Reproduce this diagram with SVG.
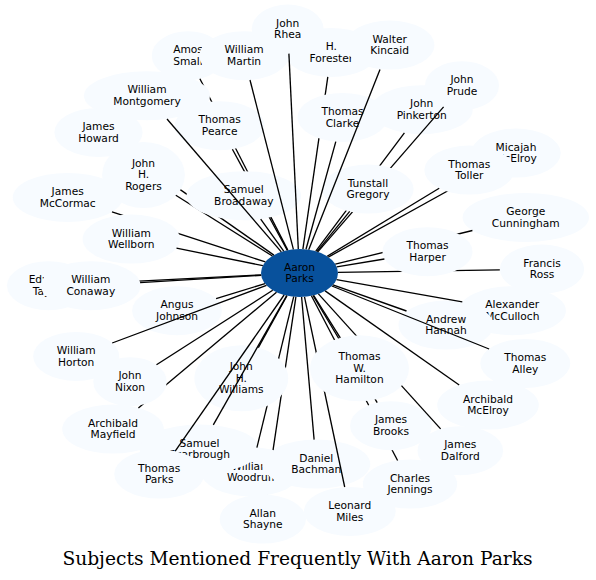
<svg xmlns="http://www.w3.org/2000/svg" width="596" height="580" viewBox="0 0 596 580">
<style>
.node ellipse{fill:#f7fbff;stroke:none}
#node-aaron-parks ellipse{fill:#08519c}
.node text{font-family:"DejaVu Sans",sans-serif;font-size:10.67px;text-anchor:middle;fill:#000}
#edges line{stroke:#000;stroke-width:1.33;fill:none}
.title{font-family:"DejaVu Serif",serif;font-size:18.67px;text-anchor:middle;fill:#000}
</style>
<defs>
<mask id="m-amos" maskUnits="userSpaceOnUse" x="0" y="0" width="596" height="580"><rect width="596" height="580" fill="#fff"/><ellipse cx="147" cy="95.7" rx="63" ry="24.5"/><ellipse cx="219.7" cy="125.7" rx="45" ry="24.5"/><ellipse cx="243.8" cy="195.7" rx="57.3" ry="24.5"/></mask>
<mask id="m-broad" maskUnits="userSpaceOnUse" x="0" y="0" width="596" height="580"><rect width="596" height="580" fill="#fff"/><ellipse cx="243.8" cy="195.7" rx="57.3" ry="24.5"/></mask>
<mask id="m-howard" maskUnits="userSpaceOnUse" x="0" y="0" width="596" height="580"><rect width="596" height="580" fill="#fff"/><ellipse cx="143.5" cy="175" rx="41.4" ry="33"/><ellipse cx="243.8" cy="195.7" rx="57.3" ry="24.5"/></mask>
<mask id="m-clarke" maskUnits="userSpaceOnUse" x="0" y="0" width="596" height="580"><rect width="596" height="580" fill="#fff"/><ellipse cx="342.5" cy="117.4" rx="45" ry="24.5"/></mask>
<mask id="m-tun" maskUnits="userSpaceOnUse" x="0" y="0" width="596" height="580"><rect width="596" height="580" fill="#fff"/><ellipse cx="368" cy="189.1" rx="45.7" ry="24.5"/></mask>
<mask id="m-toller" maskUnits="userSpaceOnUse" x="0" y="0" width="596" height="580"><rect width="596" height="580" fill="#fff"/><ellipse cx="469.3" cy="170.1" rx="45" ry="24.5"/></mask>
<mask id="m-well" maskUnits="userSpaceOnUse" x="0" y="0" width="596" height="580"><rect width="596" height="580" fill="#fff"/><ellipse cx="131.3" cy="239.1" rx="48.7" ry="24.5"/></mask>
<mask id="m-harper" maskUnits="userSpaceOnUse" x="0" y="0" width="596" height="580"><rect width="596" height="580" fill="#fff"/><ellipse cx="427.5" cy="251.7" rx="45" ry="24.5"/></mask>
<mask id="m-con" maskUnits="userSpaceOnUse" x="0" y="0" width="596" height="580"><rect width="596" height="580" fill="#fff"/><ellipse cx="90.8" cy="285.7" rx="49.7" ry="24.5"/></mask>
<mask id="m-nixon" maskUnits="userSpaceOnUse" x="0" y="0" width="596" height="580"><rect width="596" height="580" fill="#fff"/><ellipse cx="130" cy="381.7" rx="36.7" ry="24.5"/></mask>
<mask id="m-ham" maskUnits="userSpaceOnUse" x="0" y="0" width="596" height="580"><rect width="596" height="580" fill="#fff"/><ellipse cx="359.5" cy="368.3" rx="49.4" ry="33"/></mask>
<mask id="m-jen" maskUnits="userSpaceOnUse" x="0" y="0" width="596" height="580"><rect width="596" height="580" fill="#fff"/><ellipse cx="359.5" cy="368.3" rx="49.4" ry="33"/><ellipse cx="391" cy="425.7" rx="40.9" ry="24.5"/></mask>
<mask id="m-will" maskUnits="userSpaceOnUse" x="0" y="0" width="596" height="580"><rect width="596" height="580" fill="#fff"/><ellipse cx="241.3" cy="378.3" rx="46.9" ry="33"/></mask>
<mask id="m-allan" maskUnits="userSpaceOnUse" x="0" y="0" width="596" height="580"><rect width="596" height="580" fill="#fff"/><ellipse cx="241.3" cy="378.3" rx="46.9" ry="33"/><ellipse cx="251" cy="471.9" rx="49.8" ry="24.5"/></mask>
</defs>
<rect width="596" height="580" fill="#fff"/>
<g id="nodes">
<g id="node-aaron-parks" class="node"><ellipse cx="299.5" cy="273" rx="38.5" ry="24"/><text><tspan x="299.5" y="270.6">Aaron</tspan><tspan x="299.5" y="282.3">Parks</tspan></text></g>
<g id="node-amos-small" class="node"><ellipse cx="188" cy="55.7" rx="36.2" ry="24.5"/><text><tspan x="188" y="53.3">Amos</tspan><tspan x="188" y="65">Small</tspan></text></g>
<g id="node-william-martin" class="node"><ellipse cx="244.1" cy="55.7" rx="44.8" ry="24.5"/><text><tspan x="244.1" y="53.3">William</tspan><tspan x="244.1" y="65">Martin</tspan></text></g>
<g id="node-h-forester" class="node"><ellipse cx="331.3" cy="52.4" rx="46.5" ry="24.5"/><text><tspan x="331.3" y="50">H.</tspan><tspan x="331.3" y="61.7">Forester</tspan></text></g>
<g id="node-john-rhea" class="node"><ellipse cx="287.7" cy="29.1" rx="36" ry="24.5"/><text><tspan x="287.7" y="26.7">John</tspan><tspan x="287.7" y="38.4">Rhea</tspan></text></g>
<g id="node-walter-kincaid" class="node"><ellipse cx="389.7" cy="45.1" rx="44.8" ry="24.5"/><text><tspan x="389.7" y="42.7">Walter</tspan><tspan x="389.7" y="54.4">Kincaid</tspan></text></g>
<g id="node-john-pinkerton" class="node"><ellipse cx="421.7" cy="109.7" rx="51" ry="24.5"/><text><tspan x="421.7" y="107.3">John</tspan><tspan x="421.7" y="119">Pinkerton</tspan></text></g>
<g id="node-john-prude" class="node"><ellipse cx="462" cy="85.7" rx="37" ry="24.5"/><text><tspan x="462" y="83.3">John</tspan><tspan x="462" y="95">Prude</tspan></text></g>
<g id="node-william-montgomery" class="node"><ellipse cx="147" cy="95.7" rx="63" ry="24.5"/><text><tspan x="147" y="93.3">William</tspan><tspan x="147" y="105">Montgomery</tspan></text></g>
<g id="node-thomas-pearce" class="node"><ellipse cx="219.7" cy="125.7" rx="45" ry="24.5"/><text><tspan x="219.7" y="123.3">Thomas</tspan><tspan x="219.7" y="135">Pearce</tspan></text></g>
<g id="node-thomas-clarke" class="node"><ellipse cx="342.5" cy="117.4" rx="45" ry="24.5"/><text><tspan x="342.5" y="115">Thomas</tspan><tspan x="342.5" y="126.7">Clarke</tspan></text></g>
<g id="node-james-howard" class="node"><ellipse cx="98.5" cy="132.4" rx="44.1" ry="24.5"/><text><tspan x="98.5" y="130">James</tspan><tspan x="98.5" y="141.7">Howard</tspan></text></g>
<g id="node-micajah-mcelroy" class="node"><ellipse cx="516" cy="153.1" rx="44.8" ry="24.5"/><text><tspan x="516" y="150.7">Micajah</tspan><tspan x="516" y="162.4">McElroy</tspan></text></g>
<g id="node-thomas-toller" class="node"><ellipse cx="469.3" cy="170.1" rx="45" ry="24.5"/><text><tspan x="469.3" y="167.7">Thomas</tspan><tspan x="469.3" y="179.4">Toller</tspan></text></g>
<g id="node-john-h-rogers" class="node"><ellipse cx="143.5" cy="175" rx="41.4" ry="33"/><text><tspan x="143.5" y="166.7">John</tspan><tspan x="143.5" y="178.4">H.</tspan><tspan x="143.5" y="190.1">Rogers</tspan></text></g>
<g id="node-james-mccormac" class="node"><ellipse cx="67.7" cy="197.4" rx="54.9" ry="24.5"/><text><tspan x="67.7" y="195">James</tspan><tspan x="67.7" y="206.7">McCormac</tspan></text></g>
<g id="node-samuel-broadaway" class="node"><ellipse cx="243.8" cy="195.7" rx="57.3" ry="24.5"/><text><tspan x="243.8" y="193.3">Samuel</tspan><tspan x="243.8" y="205">Broadaway</tspan></text></g>
<g id="node-tunstall-gregory" class="node"><ellipse cx="368" cy="189.1" rx="45.7" ry="24.5"/><text><tspan x="368" y="186.7">Tunstall</tspan><tspan x="368" y="198.4">Gregory</tspan></text></g>
<g id="node-george-cunningham" class="node"><ellipse cx="525.8" cy="217.4" rx="63.2" ry="24.5"/><text><tspan x="525.8" y="215">George</tspan><tspan x="525.8" y="226.7">Cunningham</tspan></text></g>
<g id="node-william-wellborn" class="node"><ellipse cx="131.3" cy="239.1" rx="48.7" ry="24.5"/><text><tspan x="131.3" y="236.7">William</tspan><tspan x="131.3" y="248.4">Wellborn</tspan></text></g>
<g id="node-thomas-harper" class="node"><ellipse cx="427.5" cy="251.7" rx="45" ry="24.5"/><text><tspan x="427.5" y="249.3">Thomas</tspan><tspan x="427.5" y="261">Harper</tspan></text></g>
<g id="node-francis-ross" class="node"><ellipse cx="542" cy="269.1" rx="42.2" ry="24.5"/><text><tspan x="542" y="266.7">Francis</tspan><tspan x="542" y="278.4">Ross</tspan></text></g>
<g id="node-edward-taylor" class="node"><ellipse cx="48.5" cy="285.7" rx="41.5" ry="24.5"/><text><tspan x="48.5" y="283.3">Edward</tspan><tspan x="48.5" y="295">Taylor</tspan></text></g>
<g id="node-william-conaway" class="node"><ellipse cx="90.8" cy="285.7" rx="49.7" ry="24.5"/><text><tspan x="90.8" y="283.3">William</tspan><tspan x="90.8" y="295">Conaway</tspan></text></g>
<g id="node-angus-johnson" class="node"><ellipse cx="177" cy="310.7" rx="44.9" ry="24.5"/><text><tspan x="177" y="308.3">Angus</tspan><tspan x="177" y="320">Johnson</tspan></text></g>
<g id="node-alexander-mcculloch" class="node"><ellipse cx="512.3" cy="310.7" rx="53.6" ry="24.5"/><text><tspan x="512.3" y="308.3">Alexander</tspan><tspan x="512.3" y="320">McCulloch</tspan></text></g>
<g id="node-andrew-hannah" class="node"><ellipse cx="446" cy="325.1" rx="47.5" ry="24.5"/><text><tspan x="446" y="322.7">Andrew</tspan><tspan x="446" y="334.4">Hannah</tspan></text></g>
<g id="node-william-horton" class="node"><ellipse cx="76.2" cy="356.4" rx="43" ry="24.5"/><text><tspan x="76.2" y="354">William</tspan><tspan x="76.2" y="365.7">Horton</tspan></text></g>
<g id="node-thomas-alley" class="node"><ellipse cx="525.3" cy="363.4" rx="45" ry="24.5"/><text><tspan x="525.3" y="361">Thomas</tspan><tspan x="525.3" y="372.7">Alley</tspan></text></g>
<g id="node-john-h-williams" class="node"><ellipse cx="241.3" cy="378.3" rx="46.9" ry="33"/><text><tspan x="241.3" y="370">John</tspan><tspan x="241.3" y="381.7">H.</tspan><tspan x="241.3" y="393.4">Williams</tspan></text></g>
<g id="node-thomas-w-hamilton" class="node"><ellipse cx="359.5" cy="368.3" rx="49.4" ry="33"/><text><tspan x="359.5" y="360">Thomas</tspan><tspan x="359.5" y="371.7">W.</tspan><tspan x="359.5" y="383.4">Hamilton</tspan></text></g>
<g id="node-john-nixon" class="node"><ellipse cx="130" cy="381.7" rx="36.7" ry="24.5"/><text><tspan x="130" y="379.3">John</tspan><tspan x="130" y="391">Nixon</tspan></text></g>
<g id="node-archibald-mcelroy" class="node"><ellipse cx="488" cy="405.1" rx="50.8" ry="24.5"/><text><tspan x="488" y="402.7">Archibald</tspan><tspan x="488" y="414.4">McElroy</tspan></text></g>
<g id="node-archibald-mayfield" class="node"><ellipse cx="113" cy="429.1" rx="50.8" ry="24.5"/><text><tspan x="113" y="426.7">Archibald</tspan><tspan x="113" y="438.4">Mayfield</tspan></text></g>
<g id="node-james-brooks" class="node"><ellipse cx="391" cy="425.7" rx="40.9" ry="24.5"/><text><tspan x="391" y="423.3">James</tspan><tspan x="391" y="435">Brooks</tspan></text></g>
<g id="node-james-dalford" class="node"><ellipse cx="460.3" cy="450.7" rx="42.8" ry="24.5"/><text><tspan x="460.3" y="448.3">James</tspan><tspan x="460.3" y="460">Dalford</tspan></text></g>
<g id="node-william-woodruff" class="node"><ellipse cx="251" cy="471.9" rx="49.8" ry="24.5"/><text><tspan x="251" y="469.5">William</tspan><tspan x="251" y="481.2">Woodruff</tspan></text></g>
<g id="node-samuel-scarbrough" class="node"><ellipse cx="199.5" cy="449.1" rx="60" ry="24.5"/><text><tspan x="199.5" y="446.7">Samuel</tspan><tspan x="199.5" y="458.4">Scarbrough</tspan></text></g>
<g id="node-thomas-parks" class="node"><ellipse cx="159.2" cy="474.1" rx="45" ry="24.5"/><text><tspan x="159.2" y="471.7">Thomas</tspan><tspan x="159.2" y="483.4">Parks</tspan></text></g>
<g id="node-daniel-bachman" class="node"><ellipse cx="316.3" cy="464.1" rx="54" ry="24.5"/><text><tspan x="316.3" y="461.7">Daniel</tspan><tspan x="316.3" y="473.4">Bachman</tspan></text></g>
<g id="node-charles-jennings" class="node"><ellipse cx="410" cy="484.1" rx="47.2" ry="24.5"/><text><tspan x="410" y="481.7">Charles</tspan><tspan x="410" y="493.4">Jennings</tspan></text></g>
<g id="node-allan-shayne" class="node"><ellipse cx="262.8" cy="519.1" rx="43.2" ry="24.5"/><text><tspan x="262.8" y="516.7">Allan</tspan><tspan x="262.8" y="528.4">Shayne</tspan></text></g>
<g id="node-leonard-miles" class="node"><ellipse cx="349.8" cy="511.4" rx="45.9" ry="24.5"/><text><tspan x="349.8" y="509">Leonard</tspan><tspan x="349.8" y="520.7">Miles</tspan></text></g>
</g>
<g id="edges">
<line x1="298.3" y1="249" x2="288.9" y2="53.6"/>
<line x1="287.8" y1="250.1" x2="199.9" y2="78.8" mask="url(#m-amos)"/>
<line x1="293.4" y1="249.3" x2="250" y2="80"/>
<line x1="302.9" y1="249.1" x2="327.8" y2="76.8" mask="url(#m-clarke)"/>
<line x1="308.7" y1="249.7" x2="380" y2="69.5"/>
<line x1="317.8" y1="251.9" x2="443.6" y2="106.9" mask="url(#m-tun)"/>
<line x1="315.8" y1="251.2" x2="404.4" y2="132.8" mask="url(#m-tun)"/>
<line x1="281.3" y1="251.9" x2="167" y2="119"/>
<line x1="287.2" y1="250.3" x2="232.4" y2="149.2" mask="url(#m-broad)"/>
<line x1="306" y1="249.3" x2="335.8" y2="141.6"/>
<line x1="273.9" y1="255.1" x2="125.9" y2="151.6" mask="url(#m-howard)"/>
<line x1="328.3" y1="257.1" x2="484.5" y2="170.5" mask="url(#m-toller)"/>
<line x1="327.1" y1="256.3" x2="439.2" y2="188.3"/>
<line x1="272.4" y1="256" x2="175.8" y2="195.3" mask="url(#m-broad)"/>
<line x1="265.4" y1="261.9" x2="112" y2="211.9" mask="url(#m-well)"/>
<line x1="283.7" y1="251.1" x2="260.7" y2="219.1"/>
<line x1="316.9" y1="251.6" x2="349.7" y2="211.4"/>
<line x1="335.3" y1="264.2" x2="472.4" y2="230.5" mask="url(#m-harper)"/>
<line x1="262.9" y1="265.6" x2="176.5" y2="248.2"/>
<line x1="336.7" y1="266.9" x2="384.4" y2="259"/>
<line x1="338" y1="272.4" x2="499.8" y2="269.9" mask="url(#m-harper)"/>
<line x1="261.1" y1="274.9" x2="89.9" y2="283.6" mask="url(#m-con)"/>
<line x1="261.2" y1="275.3" x2="140.1" y2="282.7"/>
<line x1="265" y1="283.6" x2="216.1" y2="298.7"/>
<line x1="336.5" y1="279.6" x2="462.3" y2="301.8"/>
<line x1="332.9" y1="284.9" x2="406.5" y2="311"/>
<line x1="331.9" y1="286" x2="489.1" y2="349"/>
<line x1="266.5" y1="285.3" x2="112.2" y2="343"/>
<line x1="287" y1="295.7" x2="258.3" y2="347.6"/>
<line x1="313.6" y1="295.3" x2="340.3" y2="337.9"/>
<line x1="272.7" y1="290.2" x2="156.5" y2="364.8"/>
<line x1="325.1" y1="290.9" x2="459.2" y2="385"/>
<line x1="313" y1="295.5" x2="377.2" y2="402.6" mask="url(#m-ham)"/>
<line x1="318.4" y1="293.9" x2="440.6" y2="428.9" mask="url(#m-ham)"/>
<line x1="276.5" y1="292.2" x2="138.4" y2="407.9" mask="url(#m-nixon)"/>
<line x1="286.7" y1="295.6" x2="213.3" y2="424.8"/>
<line x1="284.1" y1="295" x2="175.2" y2="451.1"/>
<line x1="293.7" y1="296.7" x2="256.9" y2="447.7" mask="url(#m-will)"/>
<line x1="301.6" y1="297" x2="314.1" y2="439.6"/>
<line x1="311.4" y1="295.8" x2="397.6" y2="460.5" mask="url(#m-jen)"/>
<line x1="295.9" y1="296.9" x2="266.4" y2="494.7" mask="url(#m-allan)"/>
<line x1="304.5" y1="296.8" x2="344.7" y2="487" mask="url(#m-ham)"/>
</g>
<text class="title" x="297.5" y="564.5">Subjects Mentioned Frequently With Aaron Parks</text>
</svg>
